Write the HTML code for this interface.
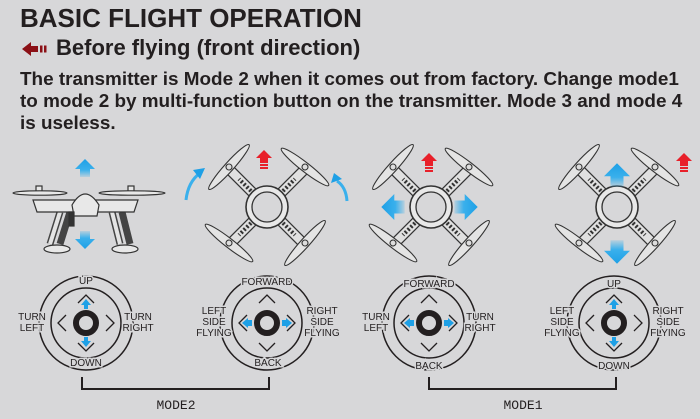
<!DOCTYPE html>
<html><head><meta charset="utf-8"><style>
html,body{margin:0;padding:0;}
body{width:700px;height:419px;background:#d7d7d9;overflow:hidden;position:relative;font-family:"Liberation Sans",sans-serif;color:#231f20;}
.t1{position:absolute;left:20px;top:3px;font-size:26px;font-weight:bold;}
.t2{position:absolute;left:56px;top:35px;font-size:22px;font-weight:bold;}
.t3{position:absolute;left:20px;top:69px;font-size:18.9px;font-weight:bold;line-height:22px;width:690px;white-space:nowrap;}
svg{position:absolute;left:0;top:0;}
</style></head><body>
<div class="t1">BASIC FLIGHT OPERATION</div>
<div class="t2">Before flying (front direction)</div>
<div class="t3">The transmitter is Mode 2 when it comes out from factory. Change mode1<br>to mode 2 by multi-function button on the transmitter. Mode 3 and mode 4<br>is useless.</div>
<svg width="700" height="419" viewBox="0 0 700 419">
<defs>
<linearGradient id="bu" x1="0" y1="0" x2="0" y2="1"><stop offset="0" stop-color="#1ea0e6"/><stop offset="0.6" stop-color="#3ab0ec"/><stop offset="1" stop-color="#3ab0ec" stop-opacity="0.2"/></linearGradient>
<g id="arrU"><path d="M0,-9 L10,1 L5,1 L5,9 L-5,9 L-5,1 L-10,1Z" fill="url(#bu)"/></g>
<g id="red"><path d="M0,-10 L8,-2 L4,-2 L4,3 L-4,3 L-4,-2 L-8,-2Z" fill="#e8202a"/><rect x="-4" y="4" width="8" height="2" fill="#e8202a"/><rect x="-4" y="7" width="8" height="2" fill="#e8202a"/></g>
<g id="prop" fill="none" stroke="#333" stroke-width="1.1"><ellipse cx="0" cy="0" rx="30" ry="4.5" fill="#e4e4e4"/><circle r="3" fill="#ddd"/></g>
<g id="drone">
 <g stroke="#333" stroke-width="1.3" fill="#e8e8e8">
  <path d="M-12,-12 L-36,-36 M12,-12 L36,-36 M-12,12 L-36,36 M12,12 L36,36" stroke-width="11" stroke-linecap="round"/>
  <path d="M-12,-12 L-36,-36 M12,-12 L36,-36 M-12,12 L-36,36 M12,12 L36,36" stroke="#e0e0e0" stroke-width="8.5" stroke-linecap="round"/>
  <path d="M-16,-16 L-28,-28 M16,-16 L28,-28 M-16,16 L-28,28 M16,16 L28,28" stroke="#333" stroke-width="4" stroke-dasharray="2 2"/>
  <circle r="21" stroke-width="1.6"/><circle r="15" fill="#d7d7d9"/>
 </g>
 <use href="#prop" transform="translate(-38,-40) rotate(-48)"/>
 <use href="#prop" transform="translate(38,-40) rotate(38)"/>
 <use href="#prop" transform="translate(-38,36) rotate(38)"/>
 <use href="#prop" transform="translate(38,36) rotate(-48)"/>
</g>
<g id="stick" fill="none" stroke="#231f20">
 <circle r="47" stroke-width="1.5"/><circle r="35" stroke-width="1.5"/><circle r="10" stroke-width="6"/>
 <path d="M-8,-20 L0,-28 L8,-20 M-8,20 L0,28 L8,20 M-20,-8 L-28,0 L-20,8 M20,-8 L28,0 L20,8" stroke-width="1.3"/>
</g>
</defs>

<path d="M22,49 L31,42 L31,46 L38,46 L38,52 L31,52 L31,56Z" fill="#8b1016"/>
<rect x="40" y="45.5" width="2.5" height="7" fill="#8b1016"/><rect x="44" y="45.5" width="2.5" height="7" fill="#8b1016"/>

<g stroke="#333" stroke-width="1.2" fill="#e8e8e8">
 <path d="M60,212 L50,244 M70,212 L60,244 M112,212 L120,244 M122,212 L130,244" stroke-width="7" stroke="#444"/>
 <path d="M60,212 L50,244 M112,212 L120,244" stroke-width="4" stroke="#e4e4e4"/>
 <ellipse cx="57" cy="249" rx="13" ry="4"/><ellipse cx="125" cy="249" rx="13" ry="4"/>
 <path d="M33,200 L138,200 L134,212 L37,212Z"/>
 <path d="M72,205 Q85,183 99,205 L97,216 L74,216Z"/>
 <rect x="36" y="186" width="6" height="8"/><rect x="128" y="186" width="6" height="8"/>
 <ellipse cx="40" cy="193" rx="27" ry="2.2"/><ellipse cx="132" cy="193" rx="33" ry="2.2"/>
 <rect x="69" y="212" width="5" height="14" fill="#333"/>
</g>
<use href="#arrU" transform="translate(85,168)"/>
<use href="#arrU" transform="translate(85,240) rotate(180)"/>

<use href="#drone" transform="translate(267,207)"/>
<use href="#drone" transform="translate(431,207)"/>
<use href="#drone" transform="translate(617,207)"/>
<use href="#red" transform="translate(264,160)"/>
<use href="#red" transform="translate(429,163)"/>
<use href="#red" transform="translate(684,163)"/>
<path d="M186,200 Q188,182 200,173" stroke="#3ab0ec" stroke-width="3" fill="none"/><path d="M193,170 L205,168 L200,179Z" fill="#1ea0e6"/>
<path d="M347,201 Q346,187 337,181" stroke="#3ab0ec" stroke-width="3" fill="none"/><path d="M331,183 L334,173 L342,179Z" fill="#1ea0e6"/>
<use href="#arrU" transform="translate(393,207) rotate(-90) scale(1.3)"/>
<use href="#arrU" transform="translate(466,207) rotate(90) scale(1.3)"/>
<use href="#arrU" transform="translate(617,175) scale(1.3)"/>
<use href="#arrU" transform="translate(617,252) rotate(180) scale(1.3)"/>

<use href="#stick" transform="translate(86,323)"/>
<use href="#stick" transform="translate(267,323)"/>
<use href="#stick" transform="translate(429,323)"/>
<use href="#stick" transform="translate(614,323)"/>
<g fill="#1ea0e6">
 <path d="M81,305 L86,299 L91,305 L88,305 L88,309 L84,309 L84,305Z"/>
 <path d="M81,341 L86,347 L91,341 L88,341 L88,337 L84,337 L84,341Z"/>
 <path d="M242,323 L248,318 L248,328Z"/><rect x="248" y="320" width="4" height="6"/>
 <path d="M292,323 L286,318 L286,328Z"/><rect x="282" y="320" width="4" height="6"/>
 <path d="M404,323 L410,318 L410,328Z"/><rect x="410" y="320" width="4" height="6"/>
 <path d="M454,323 L448,318 L448,328Z"/><rect x="444" y="320" width="4" height="6"/>
 <path d="M609,305 L614,299 L619,305 L616,305 L616,309 L612,309 L612,305Z"/>
 <path d="M609,341 L614,347 L619,341 L616,341 L616,337 L612,337 L612,341Z"/>
</g>
<g font-family="Liberation Sans, sans-serif" font-size="10" fill="#231f20" text-anchor="middle" stroke="#d7d7d9" stroke-width="3" paint-order="stroke">
 <text x="86" y="284">UP</text><text x="86" y="366">DOWN</text>
 <text x="32" y="320">TURN</text><text x="32" y="331">LEFT</text>
 <text x="138" y="320">TURN</text><text x="138" y="331">RIGHT</text>
 <text x="267" y="285">FORWARD</text><text x="268" y="366">BACK</text>
 <text x="214" y="314">LEFT</text><text x="214" y="325">SIDE</text><text x="214" y="336">FLYING</text>
 <text x="322" y="314">RIGHT</text><text x="322" y="325">SIDE</text><text x="322" y="336">FLYING</text>
 <text x="429" y="287">FORWARD</text><text x="429" y="369">BACK</text>
 <text x="376" y="320">TURN</text><text x="376" y="331">LEFT</text>
 <text x="480" y="320">TURN</text><text x="480" y="331">RIGHT</text>
 <text x="614" y="287">UP</text><text x="614" y="369">DOWN</text>
 <text x="562" y="314">LEFT</text><text x="562" y="325">SIDE</text><text x="562" y="336">FLYING</text>
 <text x="668" y="314">RIGHT</text><text x="668" y="325">SIDE</text><text x="668" y="336">FLYING</text>
</g>
<path d="M82,377 L82,389 L269,389 L269,377" fill="none" stroke="#231f20" stroke-width="2"/>
<path d="M429,377 L429,389 L616,389 L616,377" fill="none" stroke="#231f20" stroke-width="2"/>
<g font-family="Liberation Mono, monospace" font-size="13" fill="#231f20" text-anchor="middle">
 <text x="176" y="409">MODE2</text><text x="523" y="409">MODE1</text>
</g>
</svg>
</body></html>
